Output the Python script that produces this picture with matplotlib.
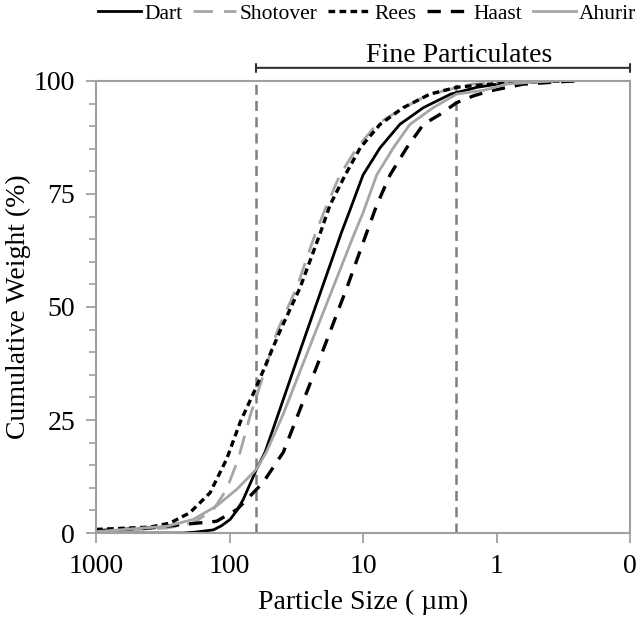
import matplotlib
matplotlib.use("Agg")
import matplotlib.pyplot as plt
from matplotlib.ticker import FixedLocator, MultipleLocator

# particle size (um) and cumulative weight (%)
dart_size = [1000, 400, 222, 180, 132, 115, 99, 88, 79, 63, 54, 28, 14.5, 12.5, 10, 7.46,
             5.3, 3.53, 2.2, 1.4, 0.84, 0.5, 0.35]
dart_pct = [0, 0, 0, 0.2, 0.7, 1.6, 3, 5, 7.4, 14, 18, 42.4, 66.5, 71.5, 79.2, 85.2,
            90.4, 94.1, 97.1, 98.6, 99.6, 99.9, 100]

shotover_size = [1000, 295, 187, 132, 105, 86, 70, 59, 44, 31.4, 22.9, 18.7, 14.9, 11.1,
                 7.9, 5.28, 3.53, 2.38, 1.5, 0.6, 0.4]
shotover_pct = [0.3, 1.1, 2.2, 5.2, 9.7, 16.4, 26, 32.7, 44.6, 54.3, 66, 72.5, 79.2, 85.2,
                90.4, 93.6, 96.4, 98, 99.3, 99.9, 100]

rees_size = [1000, 394, 279, 198, 140, 105, 83, 63, 42, 29.6, 21, 17.7, 13.6, 10.5, 7.46,
             4.99, 3.15, 1.99, 1.12, 0.5, 0.3]
rees_pct = [0.8, 1.3, 2.2, 4.5, 8.9, 16.4, 24.6, 32.3, 44.6, 54.3, 66.2, 72.5, 79.2, 85.2, 90.4,
            94.1, 97.1, 98.6, 99.3, 99.8, 100]

haast_size = [1000, 394, 222, 125, 88, 70, 56, 39.5, 21, 13.2, 9.4, 7.9, 6.28, 4.71, 3.53,
              2.65, 1.99, 1.49, 1.12, 0.63, 0.3, 0.24]
haast_pct = [0.5, 1.1, 1.9, 2.6, 5.2, 8.2, 11.2, 17.9, 38.7, 54.3, 66.4, 72.5, 79.2, 85.2, 90.4,
             92.6, 95.2, 96.7, 97.8, 99.3, 99.9, 100]

ahuriri_size = [1000, 295, 187, 125, 88, 63, 53, 40, 24.2, 11.7, 9.95, 7.9, 5.93, 4.45, 2.98,
                1.99, 1.26, 0.84, 0.5, 0.35]
ahuriri_pct = [0.3, 1.5, 3, 6, 9.7, 14.1, 17.9, 26, 42.4, 66, 71, 79.2, 85.2, 90.4, 94.1,
               97.1, 97.9, 99.3, 99.8, 100]

x_ticks = [1000, 100, 10, 1, 0.1]
x_tick_labels = ["1000", "100", "10", "1", "0"]
cutoffs = [63, 2]          # fine fraction limits
fine_range = [63, 0.1]

plt.rcParams["font.family"] = ["Liberation Serif", "DejaVu Serif"]

fig = plt.figure(figsize=(6.36, 6.18), dpi=100)
ax = fig.add_axes([0.151, 0.1375, 0.8396, 0.7315])

ax.plot(dart_size, dart_pct, color="black", lw=2.0, label="Dart")
ax.plot(shotover_size, shotover_pct, color="#a6a6a6", lw=2.0, dashes=(7, 4), label="Shotover")
ax.plot(rees_size, rees_pct, color="black", lw=2.4, dashes=(2, 1.3), label="Rees")
ax.plot(haast_size, haast_pct, color="black", lw=2.4, dashes=(4, 3), label="Haast")
ax.plot(ahuriri_size, ahuriri_pct, color="#a6a6a6", lw=2.0, label="Ahuriri")

for c in cutoffs:
    ax.axvline(c, color="#7f7f7f", lw=1.8, dashes=(4, 2.5), zorder=0)

ax.set_xscale("log")
ax.set_xlim(1000, 0.1)
ax.set_ylim(0, 100)
ax.xaxis.set_major_locator(FixedLocator(x_ticks))
ax.xaxis.set_minor_locator(FixedLocator([]))
ax.set_xticklabels(x_tick_labels)
ax.yaxis.set_major_locator(MultipleLocator(25))
ax.yaxis.set_minor_locator(MultipleLocator(5))

for s in ax.spines.values():
    s.set_color("#a0a0a0")
    s.set_linewidth(1.5)
ax.tick_params(which="major", direction="out", length=7, width=1.3, color="#a0a0a0",
               labelsize=20, pad=8)
ax.tick_params(which="minor", direction="out", length=5, width=1.2, color="#a0a0a0")

ax.set_xlabel("Particle Size ( µm)", fontsize=20, labelpad=8)
ax.set_ylabel("Cumulative Weight (%)", fontsize=20, labelpad=2)

# bracket over the fine fraction
ax.annotate("", xy=(fine_range[0], 102.9), xytext=(fine_range[1], 102.9),
            xycoords="data", annotation_clip=False,
            arrowprops=dict(arrowstyle="|-|, widthA=0.3, widthB=0.3", color="#333333", lw=1.5,
                            shrinkA=0, shrinkB=0))
ax.text(1.9, 104.3, "Fine Particulates", ha="center", va="baseline", fontsize=20)

fig.legend(loc="upper left", bbox_to_anchor=(0.154, 0.994), ncol=5, frameon=False,
           fontsize=15.5, handlelength=2.0, handletextpad=0.15, columnspacing=0.5,
           borderpad=0, borderaxespad=0)

fig.savefig("out.png", dpi=100)
